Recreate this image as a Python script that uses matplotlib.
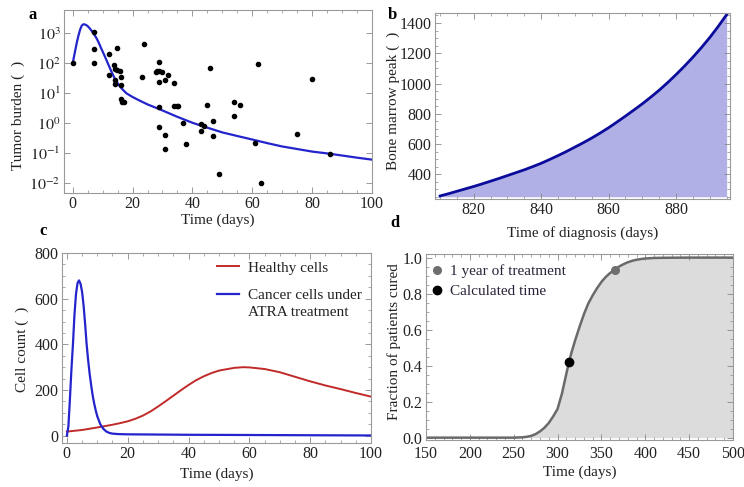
import numpy as np
import matplotlib
matplotlib.use("Agg")
import matplotlib.pyplot as plt
from matplotlib.lines import Line2D
from matplotlib.ticker import MultipleLocator, FixedLocator, FixedFormatter, LogLocator, NullFormatter

plt.rcParams['font.family'] = ['Liberation Serif', 'DejaVu Serif']
plt.rcParams['mathtext.fontset'] = 'stix'

# ---------------- data ----------------
# panel a: patient data (time, tumor burden) and model curve
a_pts_t = [0, 7, 7, 7, 12, 12, 14.9, 13.9, 14, 14.7, 15.8, 16, 14, 14.2, 16, 16, 16.4, 17.3,
           23.8, 23, 27.8, 28.3, 28.9, 29, 29.9, 29, 31, 31.9, 33.9, 29, 33.8, 34.7, 35.3,
           29, 31, 31, 38, 37, 43, 43.8, 43, 45, 46, 47, 47, 49, 54, 54, 56, 62, 61, 63, 75, 80, 86]
a_pts_y = [100, 1100, 300, 105, 200, 40, 330, 88, 65, 60, 55, 34, 28, 20, 19, 6.5, 5.3, 5.0,
           440, 34, 53, 57, 114, 55, 53, 24, 28, 40, 23, 3.4, 3.7, 3.7, 3.7,
           0.78, 0.41, 0.135, 0.2, 1.0, 0.93, 0.85, 0.55, 4.1, 72, 1.23, 0.38, 0.02, 5.2, 1.74, 4.0,
           93, 0.22, 0.01, 0.46, 30, 0.098]
a_curve_t = [0, 0.5, 1, 1.5, 2, 2.5, 3, 3.5, 4, 4.5, 5, 5.5, 6, 6.5, 7, 7.5, 8, 8.5, 9, 9.5, 10,
             11, 12, 13, 14, 15, 16, 17, 18, 20, 22, 25, 30, 35, 40, 45, 50, 55, 60, 65, 70,
             75, 80, 85, 90, 95, 100]
a_curve_y = [100, 180, 320, 560, 900, 1350, 1800, 2000, 2000, 1900, 1750, 1550, 1350, 1150, 980,
             820, 680, 540, 420, 320, 250, 150, 88, 52, 32, 22, 16, 12.5, 10, 7.6, 6.0, 4.3,
             2.7, 1.65, 1.05, 0.72, 0.5, 0.38, 0.29, 0.22, 0.17, 0.14, 0.115, 0.1, 0.085, 0.072, 0.062]

# panel b: bone marrow peak vs time of diagnosis
b_t = [810, 812.5, 815, 817.5, 820, 822.5, 825, 827.5, 830, 832.5, 835, 837.5, 840, 842.5, 845,
       847.5, 850, 852.5, 855, 857.5, 860, 862.5, 865, 867.5, 870, 872.5, 875, 877.5, 880, 882.5,
       885, 887.5, 890, 892.5, 895]
b_y = [257, 272, 288, 304, 320, 337, 355, 373, 392, 411, 430, 451, 473, 498, 524,
       551, 580, 609, 640, 673, 708, 746, 785, 825, 866, 910, 956, 1006, 1059, 1115,
       1174, 1237, 1304, 1377, 1455]

# panel c: cell counts
c_blue_t = [0, 0.5, 1, 1.5, 2, 2.5, 3, 3.5, 4, 4.5, 5, 5.5, 6, 6.5, 7, 7.5, 8, 8.5, 9, 9.5,
            10, 11, 12, 13, 14, 15, 17, 20, 30, 40, 60, 80, 100]
c_blue_y = [0, 40, 160, 290, 400, 530, 620, 668, 680, 665, 630, 570, 490, 400, 330, 270, 220,
            175, 140, 110, 85, 50, 30, 18, 12, 9, 7, 6, 5, 4, 3, 2, 1]
c_red_t = [0, 5, 10, 15, 17.5, 20, 22.5, 25, 27.5, 30, 32.5, 35, 37.5, 40, 42.5, 45, 47.5, 50,
           55, 58, 60, 65, 70, 75, 80, 85, 90, 95, 100]
c_red_y = [18, 25, 36, 48, 55, 63, 74, 88, 106, 128, 151, 175, 199, 222, 243, 260, 274, 285,
           297, 300, 299, 292, 278, 258, 238, 220, 204, 187, 171]
c_labels = ["Healthy cells", "Cancer cells under", "ATRA treatment"]

# panel d: fraction of patients cured
d_t = [150, 200, 250, 260, 265, 270, 275, 280, 285, 290, 295, 300, 305, 310, 313, 316, 320, 325,
       330, 335, 340, 345, 350, 355, 360, 365, 370, 375, 380, 385, 390, 395, 400, 410, 420, 450, 500]
d_y = [0, 0, 0, 0.002, 0.005, 0.01, 0.02, 0.035, 0.055, 0.082, 0.118, 0.16, 0.245, 0.355, 0.42,
       0.475, 0.54, 0.615, 0.685, 0.745, 0.79, 0.83, 0.865, 0.893, 0.915, 0.932, 0.95, 0.963,
       0.974, 0.982, 0.988, 0.992, 0.995, 0.998, 0.999, 1.0, 1.0]
d_year_pt = (365, 0.93)
d_calc_pt = (313, 0.42)
d_labels = ["1 year of treatment", "Calculated time"]

# ---------------- layout ----------------
W, H = 744, 487
fig = plt.figure(figsize=(W / 100, H / 100), dpi=100)


def rect(l, r, t, b):
    return [l / W, 1 - b / H, (r - l) / W, (b - t) / H]


FRAME = '#9a9a9a'
TS = 11.5
LS = 11


def style(ax, xpad=2.5):
    for s in ax.spines.values():
        s.set_color(FRAME)
        s.set_linewidth(0.8)
    ax.tick_params(which='both', direction='in', top=True, right=True, colors='#888888',
                   labelcolor='#222222', labelsize=TS, pad=2.5)
    ax.tick_params(axis='x', which='both', pad=xpad)
    ax.tick_params(which='major', length=4, width=0.6)
    ax.tick_params(which='minor', length=2, width=0.5)


def labels(ax, xl, yl, xy, yx, yy):
    ax.set_xlabel(xl, fontsize=LS, va='center', color='#222222')
    ax.xaxis.set_label_coords(0.5, xy)
    ax.set_ylabel(yl, fontsize=LS, va='center', color='#222222')
    ax.yaxis.set_label_coords(yx, yy)


BLUE = '#2424cc'

# ---- panel a ----
axa = fig.add_axes(rect(64, 372, 10, 193))
axa.set_yscale('log')
axa.plot(a_curve_t, a_curve_y, color=BLUE, lw=1.6, zorder=2)
axa.plot(a_pts_t, a_pts_y, 'o', color='black', ms=3.0, zorder=3)
axa.set_xlim(-2.9, 100)
axa.set_ylim(10 ** -2.32, 10 ** 3.78)
axa.xaxis.set_major_locator(MultipleLocator(20))
axa.xaxis.set_minor_locator(MultipleLocator(5))
decades = [1e3, 1e2, 1e1, 1e0, 1e-1, 1e-2]
axa.yaxis.set_major_locator(FixedLocator(decades))
axa.yaxis.set_major_formatter(FixedFormatter(['$10^{3}$', '$10^{2}$', '$10^{1}$', '$10^{0}$',
                                              '$10^{-1}$', '$10^{-2}$']))
axa.yaxis.set_minor_locator(LogLocator(base=10, subs=(2, 3, 4, 5, 6, 7, 8, 9)))
axa.yaxis.set_minor_formatter(NullFormatter())
style(axa)
labels(axa, 'Time (days)', 'Tumor burden (  )', -0.15, -0.149, 0.426)
fig.text(33 / W, 1 - 15 / H, 'a', fontsize=12, fontweight='bold', ha='center', va='center')

# ---- panel b ----
axb = fig.add_axes(rect(435, 730, 13, 199))
axb.fill_between(b_t, b_y, min(b_y) - 5, color='#b0b0e6', lw=0)
axb.plot(b_t, b_y, color='#0c0c9c', lw=2.0)
axb.set_xlim(808.5, 896)
axb.set_ylim(237, 1466)
axb.xaxis.set_major_locator(MultipleLocator(20))
axb.xaxis.set_minor_locator(MultipleLocator(5))
axb.yaxis.set_major_locator(FixedLocator([400, 600, 800, 1000, 1200, 1400]))
axb.yaxis.set_minor_locator(MultipleLocator(50))
style(axb)
labels(axb, 'Time of diagnosis (days)', 'Bone marrow peak (  )', -0.185, -0.142, 0.527)
fig.text(392 / W, 1 - 15 / H, 'b', fontsize=12, fontweight='bold', ha='center', va='center')

# ---- panel c ----
axc = fig.add_axes(rect(62, 371, 253, 443))
lr, = axc.plot(c_red_t, c_red_y, color='#c02a2a', lw=1.4)
lb, = axc.plot(c_blue_t, c_blue_y, color=BLUE, lw=1.6)
axc.set_xlim(-1.6, 100)
axc.set_ylim(-32, 800)
axc.xaxis.set_major_locator(MultipleLocator(20))
axc.xaxis.set_minor_locator(MultipleLocator(5))
axc.yaxis.set_major_locator(MultipleLocator(200))
axc.yaxis.set_minor_locator(MultipleLocator(50))
style(axc)
labels(axc, 'Time (days)', 'Cell count (  )', -0.163, -0.129, 0.495)
leg_kw = dict(loc='upper left', frameon=False, fontsize=11, handlelength=1.4, handletextpad=0.6,
              borderpad=0, borderaxespad=0, labelcolor='#222222')
leg1 = axc.legend([lr], [c_labels[0]], bbox_to_anchor=(0.502, 0.958), **leg_kw)
axc.add_artist(leg1)
blank = Line2D([], [], color='none')
axc.legend([lb, blank], c_labels[1:], bbox_to_anchor=(0.502, 0.812), labelspacing=0.2, **leg_kw)
fig.text(43 / W, 1 - 231 / H, 'c', fontsize=12, fontweight='bold', ha='center', va='center')

# ---- panel d ----
axd = fig.add_axes(rect(426, 733, 254, 440))
axd.fill_between(d_t, d_y, 0, color='#dcdcdc', lw=0)
axd.plot(d_t, d_y, color='#6a6a6a', lw=1.8)
h1, = axd.plot([d_year_pt[0]], [d_year_pt[1]], 'o', color='#6e6e6e', ms=5.5, ls='none')
h2, = axd.plot([d_calc_pt[0]], [d_calc_pt[1]], 'o', color='black', ms=6, ls='none')
axd.set_xlim(150, 500)
axd.set_ylim(-0.013, 1.02)
axd.xaxis.set_major_locator(MultipleLocator(50))
axd.xaxis.set_minor_locator(MultipleLocator(10))
axd.yaxis.set_major_locator(MultipleLocator(0.2))
axd.yaxis.set_minor_locator(MultipleLocator(0.05))
axd.yaxis.set_major_formatter(plt.FuncFormatter(lambda v, p: f'{v:.1f}'))
style(axd, xpad=4.5)
labels(axd, 'Time (days)', 'Fraction of patients cured', -0.172, -0.104, 0.527)
axd.legend([h1, h2], d_labels, loc='upper left', bbox_to_anchor=(0.015, 0.944), frameon=False,
           fontsize=11, handlelength=0.8, handletextpad=0.45, labelspacing=0.4, borderpad=0,
           borderaxespad=0, labelcolor='#2a2238')
fig.text(395 / W, 1 - 223 / H, 'd', fontsize=12, fontweight='bold', ha='center', va='center')

fig.savefig('out.png', dpi=100)
